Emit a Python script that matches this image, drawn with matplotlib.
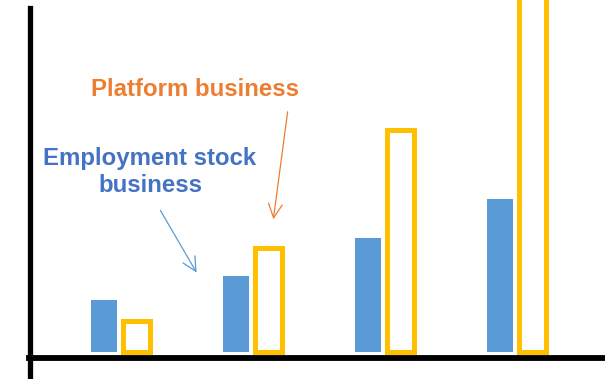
import matplotlib.pyplot as plt
import numpy as np

plt.rcParams['font.family'] = ['Liberation Sans', 'DejaVu Sans']

# bar heights (arbitrary units)
groups = [0, 1, 2, 3]
employment_stock = [52, 76, 114, 153]
platform = [31, 104, 222, 380]

blue = '#5B9BD5'
yellow = '#FFC000'

W, H = 605, 379
fig = plt.figure(figsize=(W / 100, H / 100), dpi=100)
ax = fig.add_axes([0, 0, 1, 1])

x = np.array(groups)
off = 0.122
ax.bar(x - off, employment_stock, width=0.2, color=blue, edgecolor='none')
ax.bar(x + off, platform, width=0.205, facecolor='white', edgecolor=yellow,
       linewidth=3.6)

ax.set_xlim(-0.91, 3.673)
ax.set_ylim(-27, 352)
ax.axis('off')

# axis lines, figure pixel based
def fx(px):
    return px / W

def fy(py):
    return 1 - py / H

fig.add_artist(plt.Line2D([fx(30), fx(30)], [fy(8), fy(379)], color='black', lw=3.8))
fig.add_artist(plt.Line2D([fx(29), fx(605)], [fy(358), fy(358)], color='black', lw=4.2))

# labels
fig.text(fx(195), fy(89), 'Platform business', color='#ED7D31', fontsize=17.3,
         fontweight='bold', ha='center', va='center')
fig.text(fx(150), fy(172), 'Employment stock\nbusiness', color='#4472C4', fontsize=17.3,
         fontweight='bold', ha='center', va='center', linespacing=1.27)

ax.annotate('', xy=(fx(198), fy(275)), xycoords='figure fraction',
            xytext=(fx(159), fy(208)), textcoords='figure fraction',
            arrowprops=dict(arrowstyle='->,head_length=1.0,head_width=0.5',
                            color=blue, lw=0.9))
ax.annotate('', xy=(fx(273), fy(222)), xycoords='figure fraction',
            xytext=(fx(288), fy(109)), textcoords='figure fraction',
            arrowprops=dict(arrowstyle='->,head_length=1.0,head_width=0.5',
                            color='#ED7D31', lw=0.9))

fig.savefig('out.png', dpi=100)
